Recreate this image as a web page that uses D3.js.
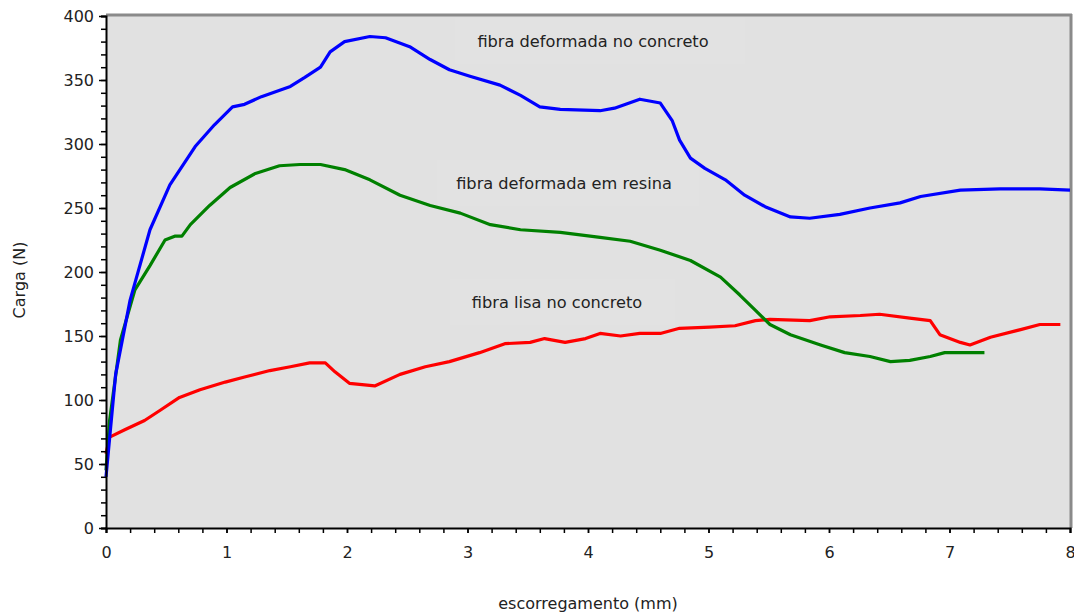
<!DOCTYPE html>
<html><head><meta charset="utf-8">
<script src="https://cdn.jsdelivr.net/npm/d3@7"></script>
<style>body{margin:0;background:#fff}svg{display:block}text{font-family:"DejaVu Sans",Verdana,sans-serif}</style>
</head><body><svg id="c" width="1074" height="614"></svg>
<script>
const xTicks=[0,1,2,3,4,5,6,7,8];
const yTicks=[0,50,100,150,200,250,300,350,400];
const xLabel="escorregamento (mm)";
const yLabel="Carga (N)";
const seriesNames=["fibra deformada no concreto","fibra deformada em resina","fibra lisa no concreto"];
const blueX=[0,0.03,0.08,0.2,0.365,0.53,0.74,0.9,1.05,1.15,1.29,1.53,1.65,1.78,1.86,1.98,2.19,2.32,2.52,2.69,2.85,3.02,3.27,3.44,3.6,3.77,4.1,4.22,4.43,4.6,4.7,4.76,4.85,4.97,5.14,5.3,5.47,5.68,5.84,6.09,6.34,6.59,6.76,7.09,7.42,7.75,8.0];
const blueY=[40,70,120,178,233,268,298,315,329,331,337,345,352,360,372,380,384,383,376,366,358,353,346,338,329,327,326,328,335,332,318,303,289,281,272,260,251,243,242,245,250,254,259,264,265,265,264];
const greenX=[0,0.03,0.12,0.24,0.365,0.49,0.57,0.63,0.7,0.86,1.03,1.24,1.44,1.61,1.78,1.98,2.19,2.44,2.69,2.94,3.19,3.44,3.77,4.1,4.35,4.6,4.85,5.1,5.26,5.39,5.51,5.68,5.93,6.13,6.34,6.51,6.67,6.84,6.96,7.29];
const greenY=[45,84,147,186,205,225,228,228,237,252,266,277,283,284,284,280,272,260,252,246,237,233,231,227,224,217,209,196,182,170,159,151,143,137,134,130,131,134,137,137];
const redX=[0,0.03,0.16,0.32,0.45,0.61,0.78,0.99,1.15,1.36,1.53,1.69,1.82,1.9,2.02,2.23,2.44,2.65,2.85,3.1,3.31,3.52,3.64,3.81,3.98,4.1,4.27,4.43,4.6,4.76,5.01,5.22,5.39,5.51,5.84,6.01,6.26,6.42,6.67,6.84,6.92,7.09,7.17,7.34,7.59,7.75,7.92];
const redY=[58,71,77,84,92,102,108,114,118,123,126,129,129,122,113,111,120,126,130,137,144,145,148,145,148,152,150,152,152,156,157,158,162,163,162,165,166,167,164,162,151,145,143,149,155,159,159];

const svg=d3.select("#c");
const L=106,R=1070,T=16,B=528;
const x=d3.scaleLinear().domain([0,8]).range([L,R]);
const y=d3.scaleLinear().domain([0,400]).range([B,T]);

svg.append("rect").attr("x",L).attr("y",T).attr("width",R-L).attr("height",B-T).attr("fill","#e1e1e1");
svg.append("line").attr("x1",L).attr("x2",R+2).attr("y1",T-1).attr("y2",T-1).attr("stroke","#8a8a8a").attr("stroke-width",3);
svg.append("line").attr("x1",R+1).attr("x2",R+1).attr("y1",T-2).attr("y2",B).attr("stroke","#8a8a8a").attr("stroke-width",3);

const labels=[{t:seriesNames[0],cx:593,cy:41,bx:455,bw:290},{t:seriesNames[1],cx:564,cy:183,bx:437,bw:262},{t:seriesNames[2],cx:557,cy:302,bx:450,bw:225}];
labels.forEach(l=>{
  svg.append("rect").attr("x",l.bx).attr("y",l.cy-23).attr("width",l.bw).attr("height",46).attr("fill","#e2e2e2");
});

const line=d3.line().x(d=>x(d[0])).y(d=>y(d[1]));
const series=[[redX,redY,"#ff0000"],[greenX,greenY,"#008000"],[blueX,blueY,"#0000ff"]];
series.forEach(([xs,ys,c])=>{
  svg.append("path").datum(xs.map((v,i)=>[v,ys[i]])).attr("d",line).attr("fill","none").attr("stroke",c).attr("stroke-width",3.2).attr("stroke-linejoin","round");
});

labels.forEach(l=>{
  svg.append("text").attr("x",l.cx).attr("y",l.cy+6).attr("text-anchor","middle").attr("font-size",16.2).attr("fill","#222").text(l.t);
});

const xMinor=d3.range(0,8.001,0.2);
const yMinor=d3.range(0,400.1,10);
const ax=svg.append("g").attr("transform",`translate(0,${B})`).call(d3.axisBottom(x).tickValues(xMinor).tickSize(5).tickFormat(""));
ax.select(".domain").attr("stroke","#000").attr("stroke-width",2);
ax.selectAll(".tick line").attr("stroke","#000").attr("stroke-width",1.5);
const ax2=svg.append("g").attr("transform",`translate(0,${B})`).call(d3.axisBottom(x).tickValues(xTicks).tickSize(5).tickPadding(14).tickFormat(d3.format("d")));
ax2.select(".domain").remove();
ax2.selectAll(".tick line").attr("stroke","#000").attr("stroke-width",1.5);
ax2.selectAll("text").attr("font-size",16).attr("fill","#222").attr("font-family","Liberation Sans, Arial, sans-serif");

const ay=svg.append("g").attr("transform",`translate(${L},0)`).call(d3.axisLeft(y).tickValues(yMinor).tickSize(5).tickFormat(""));
ay.select(".domain").attr("stroke","#000").attr("stroke-width",2);
ay.selectAll(".tick line").attr("stroke","#000").attr("stroke-width",1.5);
const ay2=svg.append("g").attr("transform",`translate(${L},0)`).call(d3.axisLeft(y).tickValues(yTicks).tickSize(7).tickPadding(5).tickFormat(d3.format("d")));
ay2.select(".domain").remove();
ay2.selectAll(".tick line").attr("stroke","#000").attr("stroke-width",1.5);
ay2.selectAll("text").attr("font-size",16).attr("fill","#222").attr("font-family","Liberation Sans, Arial, sans-serif");

svg.append("text").attr("x",588).attr("y",609).attr("text-anchor","middle").attr("font-size",16).attr("fill","#222").text(xLabel);
svg.append("text").attr("transform","translate(25,280) rotate(-90)").attr("text-anchor","middle").attr("font-size",16).attr("fill","#222").text(yLabel);
</script></body></html>
